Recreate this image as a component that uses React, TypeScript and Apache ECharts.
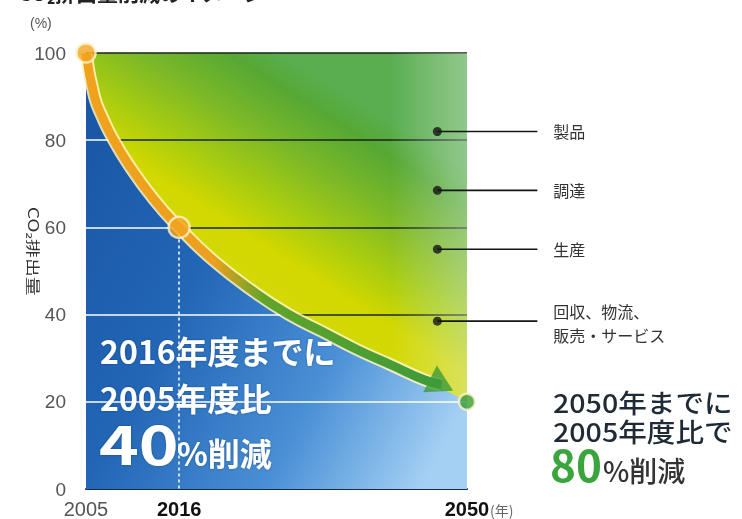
import React, { useEffect, useRef } from 'react';
import * as echarts from 'echarts';

// ---- data ----
const curveYears = [2005, 2006, 2007, 2008, 2010, 2013, 2016, 2020, 2025, 2029, 2033, 2037, 2041, 2045, 2050];
const curveValues = [100, 90, 85, 81, 74.5, 66.5, 60, 52.5, 45, 40, 36, 32, 28.5, 25, 20];
const keyYears = [2005, 2016, 2050];
const keyValues = [100, 60, 20];
const xLabelYears = [2005, 2016, 2050];
const whiteLevels = [20, 40, 60, 80];
const whiteLevelEnds = [2050, 2028, 2016, 2008];
const arrowLastYear = 2045;
const arrowHead = [2047, 23.9];
const sectorNames = ['製品', '調達', '生産', '回収、物流、\n販売・サービス'];
const sectorValues = [82, 68.5, 55, 38.5];
const sectorDotYear = 2046.5;

const narrow = "'Liberation Sans Narrow', 'Arial Narrow', 'Liberation Sans', Arial, sans-serif";
const jp = "'Noto Sans CJK JP', 'Noto Sans', sans-serif";

export default function App() {
  const ref = useRef<HTMLDivElement>(null);
  useEffect(() => {
    const chart = echarts.init(ref.current!, null, { renderer: 'svg' });
    const curve = curveYears.map((y, i) => [y, curveValues[i]]);
    const arrowCurve = [...curve.filter((p) => p[0] <= arrowLastYear), arrowHead];
    const G = echarts.graphic.LinearGradient;
    const shadow = { textShadowColor: 'rgba(0,0,40,0.35)', textShadowBlur: 2 };

    const option: any = {
      animation: false,
      grid: {
        left: 86, right: 275, top: 53, bottom: 28, show: true, borderWidth: 0,
        backgroundColor: new G(0.2, 1, 0.7, 0.1, [
          { offset: 0, color: '#d8dc30' },
          { offset: 0.6, color: '#d2d800' },
          { offset: 0.7, color: '#a8cc10' },
          { offset: 0.82, color: '#7ab828' },
          { offset: 0.93, color: '#56a834' },
          { offset: 1, color: '#5aae50' },
        ]),
      },
      xAxis: {
        type: 'value', min: 2005, max: 2050,
        axisLine: { show: true, lineStyle: { color: '#1c2a4a', width: 2 } },
        axisTick: { show: false },
        splitLine: { show: false },
        axisLabel: {
          customValues: xLabelYears,
          margin: 10,
          formatter: (v: number) => (v === 2005 ? '{n|' + v + '}' : '{b|' + v + '}'),
          rich: {
            n: { fontFamily: narrow, fontSize: 20, color: '#555' },
            b: { fontFamily: narrow, fontSize: 20, color: '#111', fontWeight: 'bold' },
          },
        },
      },
      yAxis: {
        type: 'value', min: 0, max: 100, interval: 20,
        axisLine: { show: false }, axisTick: { show: false },
        axisLabel: { fontFamily: narrow, fontSize: 19, color: '#555', margin: 20 },
        splitLine: { show: true, lineStyle: { color: '#172417', width: 1.6 } },
      },
      series: [
        {
          type: 'line', data: [[2050, 100]], symbol: 'none', lineStyle: { width: 0 }, z: 1, silent: true,
          markArea: {
            silent: true,
            itemStyle: {
              color: new G(0, 0, 1, 0, [
                { offset: 0, color: 'rgba(235,245,235,0)' },
                { offset: 1, color: 'rgba(225,240,230,0.4)' },
              ]),
            },
            data: [[{ coord: [2041, 20] }, { coord: [2050, 100] }]],
          },
        },
        {
          type: 'line', data: curve, smooth: true, symbol: 'none', z: 2, silent: true,
          lineStyle: { width: 0 },
          areaStyle: {
            opacity: 1,
            color: new G(0, 0.2, 1, 0.8, [
              { offset: 0, color: '#1a58a6' },
              { offset: 0.35, color: '#2266b6' },
              { offset: 0.7, color: '#4a90d6' },
              { offset: 1, color: '#a4d0f4' },
            ]),
          },
        },
        {
          type: 'line', data: [], z: 3, silent: true,
          markLine: {
            silent: true, symbol: ['none', 'none'], label: { show: false },
            lineStyle: { color: '#ffffff', width: 1.5, type: 'solid' },
            data: [
              ...whiteLevels.map((v, i) => [{ coord: [2005, v] }, { coord: [whiteLevelEnds[i], v] }]),
              [{ coord: [keyYears[1], keyValues[1]], lineStyle: { type: [3, 3], width: 1.5, color: '#ffffff' } }, { coord: [keyYears[1], 0] }],
            ],
          },
        },
        {
          type: 'line', data: arrowCurve, smooth: true, symbol: 'none', z: 4, silent: true,
          lineStyle: { width: 13, color: 'rgba(255,245,190,0.85)', cap: 'butt' },
        },
        {
          type: 'line', data: arrowCurve, smooth: true, symbol: 'none', z: 5, silent: true,
          lineStyle: {
            width: 9, cap: 'butt',
            color: new G(0, 0, 1, 0, [
              { offset: 0, color: '#f0a21c' },
              { offset: 0.36, color: '#eca01e' },
              { offset: 0.5, color: '#62a42a' },
              { offset: 1, color: '#3c9a3a' },
            ]),
          },
        },
        {
          type: 'scatter', data: [arrowHead], symbol: 'triangle', symbolSize: [30, 26], symbolRotate: -117, z: 5,
          itemStyle: { color: '#3d9b38' }, silent: true,
        },
        {
          type: 'scatter', z: 6, silent: true,
          data: keyYears.map((y, i) => ({
            value: [y, keyValues[i]],
            symbolSize: i === 2 ? 16 : i === 1 ? 21 : 19,
            itemStyle: { color: i === 2 ? '#3a9a35' : '#f2a41e', borderColor: '#fff4d0', borderWidth: 2.5 },
          })),
        },
        {
          type: 'scatter', z: 6, silent: true, symbolSize: 9, itemStyle: { color: '#151515' },
          data: sectorValues.map((v) => [sectorDotYear, v]),
        },
      ],
      graphic: [
        { type: 'text', x: 18, y: -19, style: { text: 'CO₂排出量削減のイメージ', fontSize: 21, fontWeight: 'bold', fontFamily: jp, fill: '#222' } },
        { type: 'text', x: 30, y: 16, style: { text: '(%)', fontSize: 14, fontFamily: narrow, fill: '#555' } },
        { type: 'text', x: 34, y: 207, rotation: -Math.PI / 2, scaleX: 1.35, style: { text: 'CO₂排出量', fontSize: 14, fontFamily: jp, fill: '#333', verticalAlign: 'middle' } },
        { type: 'text', x: 490, y: 510, style: { text: '(年)', fontSize: 14, fontFamily: jp, fill: '#666', verticalAlign: 'middle' } },
        { type: 'text', x: 100, y: 350, z: 10, style: { text: '2016年度までに', fontSize: 32, fontWeight: 'bold', fontFamily: jp, fill: '#ffffff', verticalAlign: 'middle', ...shadow } },
        { type: 'text', x: 100, y: 397, z: 10, style: { text: '2005年度比', fontSize: 32, fontWeight: 'bold', fontFamily: jp, fill: '#ffffff', verticalAlign: 'middle', ...shadow } },
        { type: 'text', x: 99, y: 469, z: 10, scaleX: 1.25, style: { text: '40', fontSize: 54, fontWeight: 'bold', fontFamily: jp, fill: '#ffffff', verticalAlign: 'bottom', ...shadow } },
        { type: 'text', x: 177, y: 468, z: 10, style: { text: '%削減', fontSize: 32, fontWeight: 'bold', fontFamily: jp, fill: '#ffffff', verticalAlign: 'bottom', ...shadow } },
        { type: 'text', x: 553, y: 402, scaleX: 1.1, style: { text: '2050年までに', fontSize: 26, fontWeight: 500, fontFamily: jp, fill: '#1e2a36', verticalAlign: 'middle' } },
        { type: 'text', x: 553, y: 431, scaleX: 1.1, style: { text: '2005年度比で', fontSize: 26, fontWeight: 500, fontFamily: jp, fill: '#1e2a36', verticalAlign: 'middle' } },
        { type: 'text', x: 550, y: 485, style: { text: '80', fontSize: 44, fontWeight: 'bold', fontFamily: jp, fill: '#3aa53c', verticalAlign: 'bottom' } },
        { type: 'text', x: 603, y: 484, style: { text: '%削減', fontSize: 28, fontWeight: 500, fontFamily: jp, fill: '#333', verticalAlign: 'bottom' } },
      ],
    };
    chart.setOption(option);

    // leader lines and labels for the sectors, anchored on the data points
    const leaders: any[] = [];
    sectorValues.forEach((v, i) => {
      const p = chart.convertToPixel({ gridIndex: 0 }, [sectorDotYear, v]) as number[];
      leaders.push({ type: 'line', z: 6, silent: true, shape: { x1: p[0], y1: p[1], x2: p[0] + 100, y2: p[1] }, style: { stroke: '#151515', lineWidth: 1.6 } });
      leaders.push({ type: 'text', z: 6, silent: true, x: p[0] + 116, y: p[1] + (i === 3 ? 2 : 0), style: { text: sectorNames[i], fontSize: 16, fontFamily: jp, fill: '#333', lineHeight: 24, verticalAlign: 'middle' } });
    });
    chart.setOption({ graphic: [...option.graphic, ...leaders] });
    return () => chart.dispose();
  }, []);
  return <div ref={ref} style={{ position: 'fixed', left: 0, top: 0, width: 742, height: 519 }} />;
}
